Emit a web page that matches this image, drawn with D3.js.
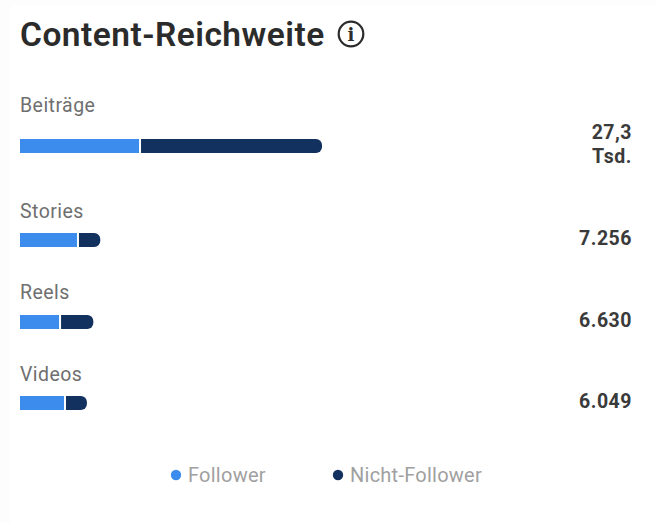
<!DOCTYPE html>
<html lang="de">
<head>
<meta charset="utf-8">
<title>Content-Reichweite</title>
<script src="https://cdn.jsdelivr.net/npm/d3@7"></script>
<style>
  html, body { margin: 0; padding: 0; background: #fdfdfd; }
  svg { display: block; font-family: Roboto, sans-serif; }
</style>
</head>
<body>
<svg id="chart" width="656" height="523"></svg>
<script>
// Reach per content type, split into followers and non-followers
const categories = ["Beiträge", "Stories", "Reels", "Videos"];
const followerValues = [10850, 5240, 3620, 4070];
const nonFollowerValues = [16450, 2016, 3010, 1979];
const valueLabels = [["27,3", "Tsd."], ["7.256"], ["6.630"], ["6.049"]];
const seriesNames = ["Follower", "Nicht-Follower"];
const seriesColors = ["#3b8ced", "#12315f"];
const chartTitle = "Content-Reichweite";

const svg = d3.select("#chart");
const inkDark = "#2b2b2b";
const inkMuted = "#6f6f6f";

// White card on a very slightly grey page
svg.append("rect")
  .attr("x", 10).attr("y", 5).attr("width", 646).attr("height", 518)
  .attr("fill", "#ffffff");

svg.append("text")
  .attr("x", 20).attr("y", 46)
  .attr("font-size", 33.5).attr("font-weight", 600).attr("letter-spacing", 0.48)
  .attr("fill", inkDark)
  .text(chartTitle);

// Info icon next to the title
const info = svg.append("g").attr("transform", "translate(351,34)");
info.append("circle").attr("r", 12.3)
  .attr("fill", "none").attr("stroke", inkDark).attr("stroke-width", 2.2);
info.append("text")
  .attr("text-anchor", "middle").attr("y", 7)
  .attr("font-family", "'DejaVu Serif', serif").attr("font-size", 18).attr("font-weight", 700)
  .attr("fill", inkDark)
  .text("i");

const rows = categories.map((name, i) => ({
  name,
  Follower: followerValues[i],
  "Nicht-Follower": nonFollowerValues[i],
  label: valueLabels[i]
}));

const x = d3.scaleLinear()
  .domain([0, d3.max(rows, d => d.Follower + d["Nicht-Follower"])])
  .range([20, 322]);

// Row positions follow the layout: the first row is taller because its value wraps
const y = d3.scaleOrdinal()
  .domain(categories)
  .range([146, 240, 322, 403]);
const labelY = d3.scaleOrdinal()
  .domain(categories)
  .range([111.5, 217.5, 298.5, 380.5]);

const color = d3.scaleOrdinal().domain(seriesNames).range(seriesColors);
const stacked = d3.stack().keys(seriesNames)(rows);
const barHeight = 14;
const radius = 6;

// Square on the left, rounded on the right for the outer segment
function segmentPath(x0, x1, cy, rounded) {
  const p = d3.path();
  const top = cy - barHeight / 2, bottom = cy + barHeight / 2;
  p.moveTo(x0, top);
  if (rounded) {
    p.lineTo(x1 - radius, top);
    p.arcTo(x1, top, x1, top + radius, radius);
    p.lineTo(x1, bottom - radius);
    p.arcTo(x1, bottom, x1 - radius, bottom, radius);
  } else {
    p.lineTo(x1, top);
    p.lineTo(x1, bottom);
  }
  p.lineTo(x0, bottom);
  p.closePath();
  return p.toString();
}

svg.append("g").selectAll("g")
  .data(stacked)
  .join("g")
  .attr("fill", s => color(s.key))
  .each(function (s, si) {
    d3.select(this).selectAll("path")
      .data(s)
      .join("path")
      .attr("d", d => segmentPath(
        x(d[0]) + (si === 1 ? 1 : 0),
        x(d[1]) - (si === 0 ? 1 : 0),
        y(d.data.name),
        si === 1));
  });

// Category names above each bar
svg.append("g").selectAll("text")
  .data(rows)
  .join("text")
  .attr("x", 20)
  .attr("y", d => labelY(d.name))
  .attr("font-size", 19.5).attr("letter-spacing", 0.45)
  .attr("fill", inkMuted)
  .text(d => d.name);

// Totals at the right edge, wrapped onto two lines where needed
svg.append("g").selectAll("text")
  .data(rows)
  .join("text")
  .attr("text-anchor", "end")
  .attr("font-size", 19.5).attr("font-weight", 700).attr("letter-spacing", 0.5)
  .attr("fill", "#3a3a3a")
  .each(function (d) {
    const cy = y(d.name);
    const startY = d.label.length > 1 ? cy - 7 : cy + 5;
    d3.select(this).selectAll("tspan")
      .data(d.label)
      .join("tspan")
      .attr("x", 632)
      .attr("y", (_, i) => startY + i * 24)
      .text(t => t);
  });

// Legend centred under the bars
const legendX = d3.scaleOrdinal().domain(seriesNames).range([176, 338]);
const legend = svg.append("g").selectAll("g")
  .data(seriesNames)
  .join("g")
  .attr("transform", d => `translate(${legendX(d)},475)`);
legend.append("circle").attr("r", 5.2).attr("fill", d => color(d));
legend.append("text")
  .attr("x", 12).attr("y", 7)
  .attr("font-size", 20).attr("letter-spacing", 0.25)
  .attr("fill", "#a0a0a0")
  .text(d => d);
</script>
</body>
</html>
